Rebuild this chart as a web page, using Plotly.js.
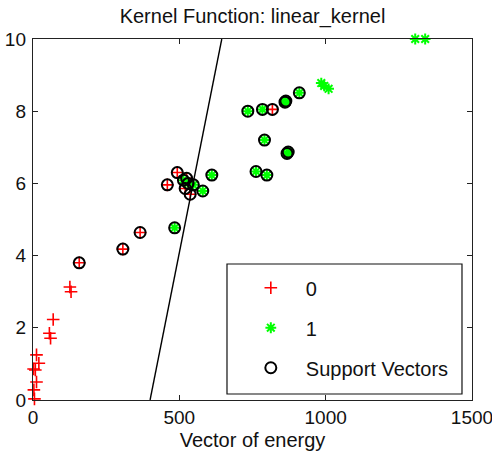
<!DOCTYPE html>
<html>
<head>
<meta charset="utf-8">
<script src="https://cdn.plot.ly/plotly-3.0.1.min.js"></script>
<style>
  html, body { margin: 0; padding: 0; background: #fff; }
  #chart { width: 492px; height: 461px; }
</style>
</head>
<body>
<div id="chart"></div>
<script>
// Class 0 samples (energy feature vs. second feature)
var class0X = [5, 3, 12, 8, 2, 20, 12, 56, 60, 69, 126, 130,
               158, 307, 366, 459, 493, 525, 520, 537, 818];
var class0Y = [0.03, 0.28, 0.5, 0.83, 0.86, 1.02, 1.25, 1.85, 1.71, 2.23, 3.13, 3.0,
               3.80, 4.18, 4.64, 5.96, 6.30, 6.14, 5.86, 5.70, 8.05];

// Class 1 samples
var class1X = [1306, 1340, 985, 995, 1010,
               484, 514, 530, 548, 580, 611, 734, 784, 861, 864, 910, 791, 868, 872, 762, 799];
var class1Y = [10.0, 10.0, 8.78, 8.70, 8.62,
               4.77, 6.09, 6.00, 5.96, 5.79, 6.23, 8.00, 8.05, 8.25, 8.28, 8.51, 7.20, 6.83, 6.87, 6.33, 6.23];

// Indices of the samples that ended up as support vectors
var sv0Idx = [12, 13, 14, 15, 16, 17, 18, 19, 20];
var sv1Idx = [5, 6, 7, 8, 9, 10, 11, 12, 13, 14, 15, 16, 17, 18, 19, 20];

// Separating hyperplane of the linear kernel SVM
var boundaryX = [400, 645];
var boundaryY = [0, 10];

var xTicks = [0, 500, 1000, 1500];
var yTicks = [0, 2, 4, 6, 8, 10];

var svX = sv0Idx.map(function (i) { return class0X[i]; })
  .concat(sv1Idx.map(function (i) { return class1X[i]; }));
var svY = sv0Idx.map(function (i) { return class0Y[i]; })
  .concat(sv1Idx.map(function (i) { return class1Y[i]; }));

var FONT = 'Liberation Sans, Arial, Helvetica, sans-serif';

var traces = [
  {
    x: class0X, y: class0Y, type: 'scatter', mode: 'markers', name: '0',
    legendgroup: 'g0', cliponaxis: false,
    marker: { symbol: 'cross-thin-open', size: 9, color: '#ff0000',
              line: { color: '#ff0000', width: 1.6 } }
  },
  {
    x: class1X, y: class1Y, type: 'scatter', mode: 'markers', name: '1',
    legendgroup: 'g1', cliponaxis: false,
    marker: { symbol: 'asterisk-open', size: 9, color: '#00ff00',
              line: { color: '#00ff00', width: 2 } }
  },
  {
    x: svX, y: svY, type: 'scatter', mode: 'markers', name: 'Support Vectors',
    legendgroup: 'g2', cliponaxis: false,
    marker: { symbol: 'circle-open', size: 11, color: '#000',
              line: { color: '#000', width: 2 } }
  },
  {
    x: boundaryX, y: boundaryY, type: 'scatter', mode: 'lines',
    showlegend: false, hoverinfo: 'skip',
    line: { color: '#000', width: 1.4 }
  }
];

var axisCommon = {
  showgrid: false, zeroline: false,
  showline: true, linecolor: '#222', linewidth: 1.2,
  mirror: 'ticks', ticks: 'inside', ticklen: 5, tickwidth: 1.2, tickcolor: '#222',
  ticklabeloverflow: 'allow',
  tickfont: { family: FONT, size: 19, color: '#111' }
};

var layout = {
  width: 492, height: 461,
  paper_bgcolor: '#fff', plot_bgcolor: '#fff',
  margin: { l: 33, r: 20, t: 39, b: 61 },
  font: { family: FONT, color: '#111' },
  title: {
    text: 'Kernel Function: linear_kernel',
    font: { family: FONT, size: 20, color: '#111' },
    xref: 'paper', x: 0.5, xanchor: 'center',
    yref: 'container', y: 1 - 16 / 461, yanchor: 'middle'
  },
  xaxis: Object.assign({}, axisCommon, {
    range: [0, 1500], tickvals: xTicks,
    title: { text: 'Vector of energy', font: { family: FONT, size: 20, color: '#111' }, standoff: 6 }
  }),
  yaxis: Object.assign({}, axisCommon, {
    range: [0, 10], tickvals: yTicks, ticklabelstandoff: 2
  }),
  showlegend: true,
  legend: {
    x: 0.462, xanchor: 'left', y: 0.365, yanchor: 'top',
    bgcolor: 'rgba(0,0,0,0)', borderwidth: 0,
    font: { family: FONT, size: 20, color: '#111' },
    traceorder: 'grouped', tracegroupgap: 11, itemwidth: 60
  },
  shapes: [{
    type: 'rect', xref: 'paper', yref: 'paper',
    x0: 0.4419, x1: 0.9772, y0: 0.0166, y1: 0.3767,
    line: { color: '#111', width: 1.2 }, fillcolor: '#fff', layer: 'above'
  }]
};

Plotly.newPlot('chart', traces, layout, { displayModeBar: false, staticPlot: true });
</script>
</body>
</html>
